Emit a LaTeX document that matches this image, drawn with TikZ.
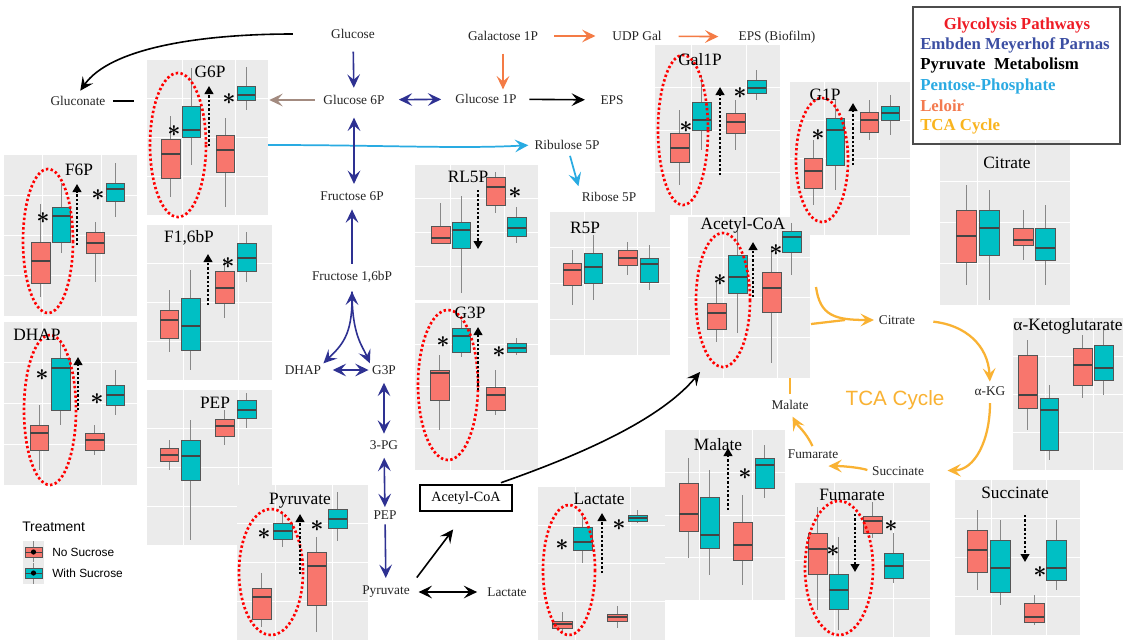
\documentclass[tikz,border=0pt]{standalone}
\usepackage{fontspec}
\setmainfont{Liberation Serif}
\newfontfamily\sansf{Liberation Sans}
\usetikzlibrary{arrows.meta,calc,fit}
\definecolor{pgray}{HTML}{EBEBEB}
\definecolor{bred}{HTML}{F8766D}
\definecolor{bteal}{HTML}{00BFC4}
\definecolor{navyc}{HTML}{2E3192}
\definecolor{lblue}{HTML}{29ABE2}
\definecolor{orangec}{HTML}{F47B45}
\definecolor{tcac}{HTML}{F9B233}
\definecolor{brownc}{HTML}{A38B80}
\definecolor{legred}{HTML}{EE1C25}
\definecolor{legblue}{HTML}{3C4FA3}
\definecolor{leglblue}{HTML}{2BAAE2}
\definecolor{legorange}{HTML}{F37A4F}
\definecolor{legtca}{HTML}{F9B41E}
\definecolor{edgec}{HTML}{555555}

\newcommand{\pbg}[5]{%
 \node[fit={(#2,#3) (#4,#5)}, inner sep=0pt, outer sep=0pt, fill=pgray] (#1) {};
 \draw[white, line width=0.5pt] ($(#2,#3)!0.29!(#4,#3)$) -- ($(#2,#5)!0.29!(#4,#5)$)
   ($(#2,#3)!0.73!(#4,#3)$) -- ($(#2,#5)!0.73!(#4,#5)$)
   ($(#2,#3)!0.25!(#2,#5)$) -- ($(#4,#3)!0.25!(#4,#5)$)
   ($(#2,#3)!0.5!(#2,#5)$) -- ($(#4,#3)!0.5!(#4,#5)$)
   ($(#2,#3)!0.75!(#2,#5)$) -- ($(#4,#3)!0.75!(#4,#5)$);
}
\newcommand{\bpx}[8]{%
 \draw[edgec!70, line width=0.5pt] ({(#2+#3)/2},#7) -- ({(#2+#3)/2},#8);
 \draw[fill=#1, draw=edgec, line width=0.4pt] (#2,#4) rectangle (#3,#5);
 \draw[edgec!80!black, line width=0.8pt] (#2,#6) -- (#3,#6);
}
\newcommand{\dotarr}[3]{\draw[dotar] (#1,#2) -- (#1,#3);}
\newcommand{\ellmark}[4]{\draw[elps] (#1,#2) ellipse [x radius=#3, y radius=#4];}
\newcommand{\stmark}[3]{\node[starn] (#1) at (#2,#3) {$\ast$};}

\tikzset{
 lab/.style={font=\fontsize{10}{11}\selectfont, inner sep=1.5pt, text=black!85},
 ttl/.style={font=\fontsize{13}{14}\selectfont, inner sep=0pt},
 starn/.style={font=\fontsize{17}{17}\selectfont\boldmath, inner sep=0pt},
 dotar/.style={line width=2.2pt, dash pattern=on 1.8pt off 1.5pt, -{Triangle[length=6pt,width=6.5pt]}},
 elps/.style={draw=red, line width=2pt, dash pattern=on 1.8pt off 1.8pt},
 >={Stealth[length=10pt,width=9.5pt,inset=4pt]},
 nv/.style={draw=navyc, line width=1.2pt},
 blk/.style={draw=black, line width=1.2pt},
 org/.style={draw=orangec, line width=1.2pt},
 lb/.style={draw=lblue, line width=1.3pt},
 brn/.style={draw=brownc, line width=1.3pt},
 tca/.style={draw=tcac, line width=1.7pt},
 legt/.style={font=\fontsize{12.6}{14}\selectfont\bfseries, inner sep=0pt, anchor=west},
 accbox/.style={draw=black, line width=1.6pt, minimum width=69pt, minimum height=20pt, font=\fontsize{10.6}{12}\selectfont, fill=white},
}

\begin{document}
\begin{tikzpicture}[x=0.75pt,y=-0.75pt]
\useasboundingbox (0,0) rectangle (1123,640);
\fill[white] (0,0) rectangle (1123,640);

% ---------- panels ----------
\pbg{pG6P}{147}{60}{268}{215}
\bpx{bred}{161}{180}{139}{178}{154}{116}{197}
\bpx{bteal}{182}{200}{106}{137}{130}{68}{165}
\bpx{bred}{216}{234}{135}{172}{150}{118}{207}
\bpx{bteal}{237}{255}{86}{100}{95}{67}{110}
\ellmark{178}{145}{28}{72}
\dotarr{209}{146}{86}
\stmark{sA1}{174}{131}
\stmark{sA2}{229}{99}
\node[ttl] (tG6P) at (210,72) {G6P};

\pbg{pF6P}{4}{155}{137}{316}
\bpx{bred}{31}{50}{242}{283}{261}{204}{297}
\bpx{bteal}{52}{70}{207}{242}{216}{183}{253}
\bpx{bred}{86}{104}{232}{253}{243}{222}{282}
\bpx{bteal}{106}{124}{183}{201}{189}{163}{217}
\ellmark{48}{241}{25}{72}
\dotarr{77}{245}{184}
\stmark{sB1}{43}{218}
\stmark{sB2}{98}{195}
\node[ttl] (tF6P) at (79,170) {F6P};

\pbg{pF16}{147}{225}{272}{380}
\bpx{bred}{160}{178}{310}{338}{320}{290}{352}
\bpx{bteal}{181}{200}{298}{350}{326}{270}{370}
\bpx{bred}{215}{234}{271}{303}{288}{258}{318}
\bpx{bteal}{237}{256}{243}{271}{258}{232}{282}
\dotarr{208}{305}{254}
\stmark{sC1}{228}{263}
\node[ttl] (tF16) at (189,238) {F1,6bP};

\pbg{pDHAP}{4}{322}{137}{485}
\bpx{bred}{30}{48}{425}{450}{433}{405}{470}
\bpx{bteal}{51}{70}{358}{410}{368}{340}{425}
\bpx{bred}{85}{104}{433}{450}{440}{425}{455}
\bpx{bteal}{106}{124}{385}{405}{395}{370}{415}
\ellmark{50}{410}{26}{75}
\dotarr{78}{410}{357}
\stmark{sD1}{42}{375}
\stmark{sD2}{97}{399}
\node[ttl] (tDHAP) at (37,335) {DHAP};

\pbg{pPEP}{147}{390}{272}{545}
\bpx{bred}{160}{178}{448}{461}{455}{440}{470}
\bpx{bteal}{181}{200}{440}{480}{456}{420}{540}
\bpx{bred}{215}{234}{419}{436}{426}{410}{445}
\bpx{bteal}{237}{256}{400}{418}{410}{393}{428}
\node[ttl] (tPEP) at (215,403) {PEP};

\pbg{pPyr}{237}{485}{368}{640}
\bpx{bred}{252}{271}{588}{619}{597}{573}{627}
\bpx{bteal}{273}{292}{523}{539}{531}{513}{547}
\bpx{bred}{307}{326}{552}{605}{566}{537}{632}
\bpx{bteal}{328}{347}{509}{528}{519}{492}{541}
\ellmark{271}{572}{32}{63}
\dotarr{300}{574}{514}
\stmark{sE1}{264}{534}
\stmark{sE2}{317}{526}
\node[ttl] (tPyr) at (300,501) {Pyruvate};

\pbg{pRL5P}{415}{165}{538}{300}
\bpx{bred}{431}{450}{226}{243}{238}{203}{243}
\bpx{bteal}{452}{470}{222}{248}{230}{196}{293}
\bpx{bred}{486}{505}{177}{205}{187}{172}{213}
\bpx{bteal}{507}{526}{217}{236}{228}{207}{243}
\dotarr{478}{190}{249}
\stmark{sF1}{515}{193}
\node[ttl] (tRL5P) at (468,177) {RL5P};

\pbg{pG3P}{415}{303}{538}{470}
\bpx{bred}{430}{449}{370}{400}{373}{355}{430}
\bpx{bteal}{452}{470}{328}{352}{336}{320}{357}
\bpx{bred}{486}{505}{387}{410}{395}{370}{415}
\bpx{bteal}{507}{526}{343}{352}{348}{338}{355}
\ellmark{448}{385}{30}{75}
\dotarr{478}{390}{327}
\stmark{sG1}{443}{342}
\stmark{sG2}{499}{352}
\node[ttl] (tG3P) at (470,313) {G3P};

\pbg{pR5P}{550}{212}{670}{355}
\bpx{bred}{563}{581}{263}{285}{270}{250}{305}
\bpx{bteal}{584}{602}{253}{283}{267}{235}{300}
\bpx{bred}{618}{637}{250}{265}{258}{242}{275}
\bpx{bteal}{640}{658}{258}{282}{264}{245}{290}
\node[ttl] (tR5P) at (585,228) {R5P};

\pbg{pGal1P}{655}{45}{780}{215}
\bpx{bred}{670}{689}{133}{162}{148}{110}{185}
\bpx{bteal}{692}{711}{102}{130}{120}{75}{150}
\bpx{bred}{726}{745}{113}{133}{122}{100}{150}
\bpx{bteal}{747}{766}{80}{93}{88}{70}{100}
\ellmark{683}{130}{25}{75}
\dotarr{720}{175}{87}
\stmark{sH1}{686}{127}
\stmark{sH2}{740}{93}
\node[ttl] (tGal1P) at (700,60) {Gal1P};

\pbg{pG1P}{790}{82}{910}{235}
\bpx{bred}{804}{822}{158}{188}{171}{140}{205}
\bpx{bteal}{826}{844}{118}{165}{130}{100}{190}
\bpx{bred}{860}{878}{112}{132}{120}{100}{140}
\bpx{bteal}{881}{899}{106}{120}{113}{95}{135}
\ellmark{822}{160}{26}{62}
\dotarr{853}{165}{103}
\stmark{sI1}{818}{135}
\node[ttl] (tG1P) at (825,95) {G1P};

\pbg{pAC}{688}{217}{810}{378}
\bpx{bred}{707}{726}{303}{329}{313}{282}{342}
\bpx{bteal}{728}{747}{255}{293}{277}{230}{333}
\bpx{bred}{762}{781}{272}{312}{288}{247}{363}
\bpx{bteal}{782}{801}{231}{252}{237}{223}{275}
\ellmark{723}{300}{27}{67}
\dotarr{753}{297}{242}
\stmark{sJ1}{720}{280}
\stmark{sJ2}{776}{250}
\node[ttl] (tAC) at (743,225) {Acetyl-CoA};

\pbg{pCit}{940}{140}{1070}{305}
\bpx{bred}{956}{976}{210}{262}{236}{185}{285}
\bpx{bteal}{979}{999}{210}{255}{228}{190}{300}
\bpx{bred}{1013}{1033}{228}{245}{240}{210}{260}
\bpx{bteal}{1035}{1055}{228}{260}{248}{205}{285}
\node[ttl] (tCit) at (1007,163) {Citrate};

\pbg{pAKG}{1013}{318}{1123}{470}
\bpx{bred}{1018}{1037}{355}{408}{395}{340}{430}
\bpx{bteal}{1040}{1058}{398}{450}{410}{385}{460}
\bpx{bred}{1073}{1092}{348}{385}{365}{335}{398}
\bpx{bteal}{1094}{1113}{345}{380}{368}{330}{395}
\node[ttl] (tAKG) at (1068,326) {α-Ketoglutarate};

\pbg{pMal}{665}{430}{785}{600}
\bpx{bred}{679}{698}{483}{531}{514}{458}{558}
\bpx{bteal}{700}{719}{497}{548}{535}{470}{575}
\bpx{bred}{733}{752}{522}{560}{545}{495}{585}
\bpx{bteal}{755}{774}{458}{488}{465}{445}{498}
\dotarr{728}{510}{448}
\stmark{sK1}{745}{474}
\node[ttl] (tMal) at (718,445) {Malate};

\pbg{pLac}{538}{487}{665}{640}
\bpx{bred}{552}{572}{621}{628}{624}{612}{632}
\bpx{bteal}{573}{592}{527}{550}{542}{515}{563}
\bpx{bred}{607}{627}{614}{621}{617}{606}{628}
\bpx{bteal}{628}{647}{515}{521}{518}{510}{523}
\ellmark{569}{570}{26}{65}
\dotarr{602}{573}{513}
\stmark{sL1}{562}{545}
\stmark{sL2}{619}{525}
\node[ttl] (tLac) at (599,499) {Lactate};

\pbg{pFum}{795}{483}{930}{637}
\bpx{bred}{808}{827}{533}{574}{549}{507}{610}
\bpx{bteal}{829}{848}{574}{609}{590}{537}{630}
\bpx{bred}{863}{882}{516}{533}{521}{502}{538}
\bpx{bteal}{884}{903}{553}{578}{566}{533}{583}
\ellmark{839}{568}{34}{67}
\dotarr{855}{514}{572}
\stmark{sM1}{833}{551}
\stmark{sM2}{891}{526}
\node[ttl] (tFum) at (852,495) {Fumarate};

\pbg{pSuc}{955}{480}{1080}{635}
\bpx{bred}{967}{987}{530}{572}{550}{510}{590}
\bpx{bteal}{990}{1010}{540}{592}{568}{520}{605}
\bpx{bred}{1024}{1044}{603}{622}{617}{595}{625}
\bpx{bteal}{1046}{1066}{540}{580}{568}{520}{590}
\dotarr{1025}{515}{562}
\stmark{sN1}{1040}{572}
\node[ttl] (tSuc) at (1015,493) {Succinate};

% ---------- pathway labels ----------
\node[lab] (glc) at (353,34) {Glucose};
\node[lab] (gal1p) at (503,36) {Galactose 1P};
\node[lab] (udpgal) at (637,36) {UDP Gal};
\node[lab] (epsb) at (777,37) {EPS (Biofilm)};
\node[lab] (gcn) at (78,101) {Gluconate};
\node[lab] (g6p) at (354,100) {Glucose 6P};
\node[lab] (g1p) at (486,99) {Glucose 1P};
\node[lab] (eps) at (612,100) {EPS};
\node[lab] (ru5p) at (567,145) {Ribulose 5P};
\node[lab] (r5p) at (609,197) {Ribose 5P};
\node[lab] (f6p) at (352,196) {Fructose 6P};
\node[lab] (f16) at (352,277) {Fructose 1,6bP};
\node[lab] (dhap) at (303,370) {DHAP};
\node[lab] (g3p) at (384,370) {G3P};
\node[lab] (pg3) at (384,445) {3-PG};
\node[lab] (pep) at (385,515) {PEP};
\node[lab] (pyr) at (386,592) {Pyruvate};
\node[lab] (lac) at (507,592) {Lactate};
\node[accbox] (acc) at (466,498) {Acetyl-CoA};
\node[lab] (cit) at (897,320) {Citrate};
\node[lab] (akg) at (990,391) {α-KG};
\node[lab] (suc) at (898,471) {Succinate};
\node[lab] (fum) at (813,454) {Fumarate};
\node[lab] (mal) at (790,405) {Malate};
\node[font=\sansf\fontsize{15.5}{17}\selectfont, text=tcac, inner sep=0pt] (tcat) at (895,400) {TCA Cycle};

% ---------- connectors ----------
\coordinate (gcnEnd) at (134,101);
\coordinate (g6pOut) at (268,145);
\coordinate (acIn) at (700,372);
\coordinate (acE1) at (816,287);
\coordinate (acE2) at (811,324);
\coordinate (tcaJ) at (845,320);

\draw[blk,->,shorten <=27pt,shorten >=3pt] (glc.west) .. controls (200,34) and (110,48) .. (gcn.north);
\draw[blk,shorten <=4pt] (gcn.east) -- (gcnEnd);
\draw[brn,->,shorten <=5pt,shorten >=1pt] (g6p.west) -- (pG6P.east |- g6p);
\draw[nv,->,shorten <=8pt,shorten >=4pt] (glc) -- (g6p);
\draw[nv,<->,shorten <=9pt,shorten >=9pt] (g6p) -- (g1p);
\draw[blk,->,shorten <=8pt,shorten >=10pt] (g1p) -- (eps);
\draw[org,->,shorten <=10.5pt,shorten >=11pt] (gal1p) -- (udpgal);
\draw[org,->,shorten <=11pt,shorten >=13.5pt] (udpgal) -- (epsb);
\draw[org,->,shorten <=8pt,shorten >=2pt] (gal1p) -- (gal1p |- g1p.north);
\draw[lb,->,shorten >=3pt] (g6pOut) .. controls (380,145) and (460,149) .. (ru5p.west);
\draw[lb,->,shorten <=3pt,shorten >=3pt] (ru5p) -- (r5p.north west);
\draw[nv,<->,shorten <=8pt,shorten >=4pt] (g6p.south) -- (g6p.south |- f6p.north);
\draw[nv,->,shorten <=4pt,shorten >=5pt] (f16.north) -- (f16.north |- f6p.south);
\draw[nv,<->,shorten <=5pt] (f16.south) .. controls (352,335) and (342,345) .. (dhap.north east);
\draw[nv,->,shorten <=5pt] (f16.south) .. controls (352,335) and (362,345) .. (g3p.north west);
\draw[nv,<->,shorten <=7pt,shorten >=1pt] (dhap) -- (g3p);
\draw[nv,<->,shorten <=4.5pt,shorten >=3.5pt] (g3p) -- (pg3);
\draw[nv,<->,shorten <=4.5pt,shorten >=1pt] (pg3) -- (pep);
\draw[nv,->,shorten <=2pt,shorten >=4.5pt] (pep) -- (pyr);
\draw[blk,<->,shorten <=5pt,shorten >=6pt] (pyr) -- (lac);
\draw[blk,->,shorten <=6pt,shorten >=16pt] (pyr.north east) -- (acc.south);
\draw[blk,->,shorten <=2pt] ([xshift=-11pt]acc.north east) .. controls (580,455) and (660,420) .. (acIn);

\draw[tca,->,shorten >=2pt] (acE1) .. controls (820,316) and (835,320) .. (cit.west);
\draw[tca] (acE2) -- (tcaJ);
\draw[tca,->,shorten <=12pt,shorten >=2pt] (cit.east) .. controls (965,325) and (988,345) .. (akg.north);
\draw[tca,->,shorten <=4pt,shorten >=16pt] (akg.south) .. controls (990,440) and (975,470) .. (suc.east);
\draw[tca,->,shorten <=2pt] (suc.west) .. controls (862,468) and (845,466) .. ([xshift=-9pt,yshift=-4pt]fum.south east);
\draw[tca,->,shorten <=1pt,shorten >=4pt] (fum.north) .. controls (806,432) and (797,425) .. (mal.south);
\draw[tca,shorten <=3pt] (mal.north) -- (mal.north |- pAC.south);

% ---------- legend box ----------
\node[fit={(913,7) (1120,144)}, draw=black!70, line width=0.9pt, inner sep=0pt] (legbox) {};
\node[legt, anchor=center, text=legred] (lg1) at (1017,25) {Glycolysis Pathways};
\node[legt, text=legblue] (lg2) at (920,45) {Embden Meyerhof Parnas};
\node[legt, text=black] (lg3) at (920,65) {Pyruvate\ \ Metabolism};
\node[legt, text=leglblue] (lg4) at (920,86) {Pentose-Phosphate};
\node[legt, text=legorange] (lg5) at (920,106) {Leloir};
\node[legt, text=legtca] (lg6) at (920,126) {TCA Cycle};

% ---------- treatment legend ----------
\node[font=\sansf\fontsize{10.4}{12}\selectfont, anchor=west, inner sep=0pt] (trt) at (22,527) {Treatment};
\fill[pgray] (23,541) rectangle (44,584);
\draw[edgec!70, line width=0.5pt] (33.5,541) -- (33.5,562) (33.5,563) -- (33.5,584);
\draw[fill=bred, draw=edgec, line width=0.4pt] (25,547) rectangle (42,557);
\draw[fill=bteal, draw=edgec, line width=0.4pt] (25,568) rectangle (42,578);
\draw[edgec!80!black, line width=0.6pt] (25,552) -- (42,552) (25,573) -- (42,573);
\fill[black] (33.5,552) circle [radius=2.6];
\fill[black] (33.5,573) circle [radius=2.6];
\node[font=\sansf\fontsize{8.9}{10}\selectfont, anchor=west, inner sep=0pt] (kno) at (52,552) {No Sucrose};
\node[font=\sansf\fontsize{8.9}{10}\selectfont, anchor=west, inner sep=0pt] (kwith) at (52,573) {With Sucrose};
\end{tikzpicture}
\end{document}
